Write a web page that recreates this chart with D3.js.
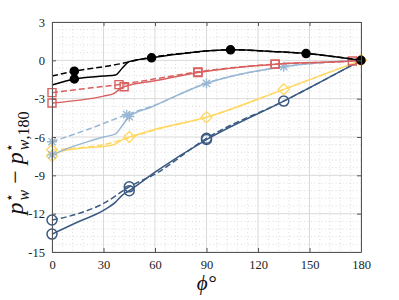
<!DOCTYPE html>
<html>
<head>
<meta charset="utf-8">
<script src="https://cdn.jsdelivr.net/npm/d3@7"></script>
<style>
  body { margin: 0; background: #fff; overflow: hidden; }
  svg { display: block; }
  svg text { font-family: "Liberation Serif", "DejaVu Serif", serif; }
</style>
</head>
<body>
<div id="chart"></div>
<script>
const width = 399, height = 300;
const margin = {top: 22, right: 38, bottom: 48, left: 52};
const innerWidth = width - margin.left - margin.right;
const innerHeight = height - margin.top - margin.bottom;

// values (phi in degrees, p*_w - p*_w,180)
const blackSolidPhi = [0, 13, 30, 37, 41, 45, 58, 80, 104, 130, 148, 165, 180];
const blackSolidVal = [-1.93, -1.46, -1.23, -1.15, -0.6, -0.1, 0.2, 0.6, 0.82, 0.68, 0.53, 0.28, 0];
const blackDashPhi = [0, 13, 36, 58, 80, 104, 130, 148, 165, 180];
const blackDashVal = [-1.23, -0.85, -0.37, 0.24, 0.6, 0.82, 0.68, 0.53, 0.28, 0];
const blackSolidMk = [13, 58, 104, 148, 180];
const blackDashMk = [13];

const redSolidPhi = [0, 30, 36, 40, 42, 60, 85, 130, 175, 180];
const redSolidVal = [-3.34, -2.8, -2.6, -2.2, -2.07, -1.6, -0.95, -0.3, -0.05, 0];
const redDashPhi = [0, 20, 39, 60, 85, 130, 175, 180];
const redDashVal = [-2.53, -2.2, -1.9, -1.45, -0.9, -0.3, -0.05, 0];
const redSolidMk = [0, 42, 85, 130, 175];
const redDashMk = [0, 39, 85, 130];

const lblueSolidPhi = [0, 10, 20, 30, 37, 41, 45, 58, 90, 135, 180];
const lblueSolidVal = [-7.4, -6.85, -6.4, -6.0, -5.75, -5.1, -4.4, -3.65, -1.8, -0.5, 0];
const lblueDashPhi = [0, 20, 43.5, 58, 90, 135, 180];
const lblueDashVal = [-6.37, -5.45, -4.25, -3.6, -1.8, -0.5, 0];
const lblueSolidMk = [0, 45, 90, 135];
const lblueDashMk = [0, 43.5];

const yellowSolidPhi = [0, 6, 15, 30, 37, 41, 45, 60, 90, 135, 180];
const yellowSolidVal = [-7.5, -7.1, -6.9, -6.75, -6.55, -6.2, -6.0, -5.4, -4.45, -2.27, 0];
const yellowDashPhi = [0, 15, 30, 45, 60, 90, 135, 180];
const yellowDashVal = [-7.0, -6.85, -6.6, -6.05, -5.45, -4.45, -2.27, 0];
const yellowSolidMk = [0, 45, 90, 135, 180];
const yellowDashMk = [0];

const dblueSolidPhi = [0, 15, 30, 37, 41, 45, 60, 90, 135, 180];
const dblueSolidVal = [-13.6, -12.65, -11.75, -11.1, -10.55, -10.2, -8.75, -6.2, -3.19, 0];
const dblueDashPhi = [0, 10, 30, 45, 60, 90, 135, 180];
const dblueDashVal = [-12.5, -12.2, -11.2, -9.9, -8.9, -6.1, -3.19, 0];
const dblueSolidMk = [0, 45, 90, 135];
const dblueDashMk = [0, 45, 90];

const xTicks = [0, 30, 60, 90, 120, 150, 180];
const yTicks = [-15, -12, -9, -6, -3, 0, 3];

const series = [
  {id: "dblue", color: "#3b5a82", marker: "circle", solid: [dblueSolidPhi, dblueSolidVal, dblueSolidMk], dash: [dblueDashPhi, dblueDashVal, dblueDashMk]},
  {id: "yellow", color: "#ffd966", marker: "diamond", solid: [yellowSolidPhi, yellowSolidVal, yellowSolidMk], dash: [yellowDashPhi, yellowDashVal, yellowDashMk]},
  {id: "lblue", color: "#9ab8d3", marker: "star", solid: [lblueSolidPhi, lblueSolidVal, lblueSolidMk], dash: [lblueDashPhi, lblueDashVal, lblueDashMk]},
  {id: "red", color: "#d9605f", marker: "square", solid: [redSolidPhi, redSolidVal, redSolidMk], dash: [redDashPhi, redDashVal, redDashMk]},
  {id: "black", color: "#000000", marker: "dot", solid: [blackSolidPhi, blackSolidVal, blackSolidMk], dash: [blackDashPhi, blackDashVal, blackDashMk]}
];

const xScale = d3.scaleLinear().domain([0, 180]).range([0, innerWidth]);
const yScale = d3.scaleLinear().domain([-15, 3]).range([innerHeight, 0]);

const svg = d3.select("#chart")
  .append("svg")
    .attr("width", width)
    .attr("height", height);

const inner = svg.append("g")
  .attr("transform", `translate(${margin.left}, ${margin.top})`);

// minor grid (dotted)
inner.append("g")
  .selectAll("line")
  .data(d3.range(0, 181, 6).filter(d => d % 30 !== 0))
  .join("line")
    .attr("x1", d => xScale(d)).attr("x2", d => xScale(d))
    .attr("y1", 0).attr("y2", innerHeight)
    .attr("stroke", "#d4d4d4").attr("stroke-width", 0.8)
    .attr("stroke-dasharray", "1,2.5");
inner.append("g")
  .selectAll("line")
  .data(d3.range(-15, 3.01, 0.6).filter(d => Math.abs(d / 3 - Math.round(d / 3)) > 0.01))
  .join("line")
    .attr("y1", d => yScale(d)).attr("y2", d => yScale(d))
    .attr("x1", 0).attr("x2", innerWidth)
    .attr("stroke", "#d4d4d4").attr("stroke-width", 0.8)
    .attr("stroke-dasharray", "1,2.5");

// major grid
inner.append("g")
  .selectAll("line")
  .data(xTicks)
  .join("line")
    .attr("x1", d => xScale(d)).attr("x2", d => xScale(d))
    .attr("y1", 0).attr("y2", innerHeight)
    .attr("stroke", "#d9d9d9").attr("stroke-width", 1);
inner.append("g")
  .selectAll("line")
  .data(yTicks)
  .join("line")
    .attr("y1", d => yScale(d)).attr("y2", d => yScale(d))
    .attr("x1", 0).attr("x2", innerWidth)
    .attr("stroke", "#d9d9d9").attr("stroke-width", 1);

const line = d3.line()
  .x(d => xScale(d[0]))
  .y(d => yScale(d[1]))
  .curve(d3.curveMonotoneX);

const markerPath = (type, x, y) => {
  if (type === "square") { const s = 4; return `M${x-s},${y-s}h${2*s}v${2*s}h${-2*s}Z`; }
  if (type === "diamond") { const s = 5.5; return `M${x},${y-s}L${x+s},${y}L${x},${y+s}L${x-s},${y}Z`; }
  if (type === "star") {
    const s = 5, t = 3.6;
    return `M${x-s},${y}L${x+s},${y}M${x},${y-s}L${x},${y+s}M${x-t},${y-t}L${x+t},${y+t}M${x-t},${y+t}L${x+t},${y-t}`;
  }
  return null;
};

series.forEach(serie => {
  const g = inner.append("g").attr("class", `serie-${serie.id}`);
  [["dash", "6,3"], ["solid", null]].forEach(([kind, dash]) => {
    const [phi, val, mk] = serie[kind];
    const pts = phi.map((p, i) => [p, val[i]]);
    g.append("path")
      .attr("d", line(pts))
      .attr("fill", "none")
      .attr("stroke", serie.color)
      .attr("stroke-width", 1.5)
      .attr("stroke-dasharray", dash);

    const mpts = pts.filter(p => mk.includes(p[0]));
    if (serie.marker === "circle" || serie.marker === "dot") {
      g.selectAll(`.mk-${kind}`)
        .data(mpts)
        .join("circle")
          .attr("class", `mk-${kind}`)
          .attr("cx", d => xScale(d[0]))
          .attr("cy", d => yScale(d[1]))
          .attr("r", serie.marker === "dot" ? 4 : 5)
          .attr("fill", serie.marker === "dot" ? serie.color : "none")
          .attr("stroke", serie.color)
          .attr("stroke-width", 1.5);
    } else {
      g.selectAll(`.mk-${kind}`)
        .data(mpts)
        .join("path")
          .attr("class", `mk-${kind}`)
          .attr("d", d => markerPath(serie.marker, xScale(d[0]), yScale(d[1])))
          .attr("fill", "none")
          .attr("stroke", serie.color)
          .attr("stroke-width", 1.4);
    }
  });
});

// axes with inward ticks
const axisColor = "#555";
const styleAxis = g => {
  g.attr("font-family", null);
  g.select(".domain").attr("stroke", axisColor).attr("stroke-width", 1);
  g.selectAll(".tick line").attr("stroke", axisColor);
  g.selectAll(".tick text")
    .attr("fill", "#222")
    .style("font-size", "12.5px")
    .style("font-family", "'Liberation Serif', 'DejaVu Serif', serif");
};
const dropLabels = g => g.selectAll(".tick text").remove();

inner.append("g")
  .attr("transform", `translate(0, ${innerHeight})`)
  .call(d3.axisBottom(xScale).tickValues(xTicks).tickSize(-4).tickSizeOuter(0).tickPadding(8))
  .call(styleAxis);
inner.append("g")
  .call(d3.axisTop(xScale).tickValues(xTicks).tickSize(-4).tickSizeOuter(0))
  .call(styleAxis)
  .call(dropLabels);
inner.append("g")
  .call(d3.axisLeft(yScale).tickValues(yTicks).tickSize(-4).tickSizeOuter(0).tickPadding(7).tickFormat(d => d))
  .call(styleAxis);
inner.append("g")
  .attr("transform", `translate(${innerWidth}, 0)`)
  .call(d3.axisRight(yScale).tickValues(yTicks).tickSize(-4).tickSizeOuter(0))
  .call(styleAxis)
  .call(dropLabels);

// axis labels
svg.append("text")
  .attr("x", margin.left + innerWidth / 2)
  .attr("y", 290)
  .attr("text-anchor", "middle")
  .style("font-size", "21px")
  .style("font-style", "italic")
  .attr("fill", "#111")
  .text("ϕ°");

const yLabel = svg.append("text")
  .attr("transform", "translate(23, 163) rotate(-90)")
  .attr("text-anchor", "middle")
  .style("font-size", "24px")
  .attr("fill", "#111");
yLabel.append("tspan").style("font-style", "italic").text("p");
yLabel.append("tspan").attr("dy", -9).style("font-size", "14px").text("⋆");
yLabel.append("tspan").attr("dx", -7).attr("dy", 15).style("font-size", "16px").style("font-style", "italic").text("w");
yLabel.append("tspan").attr("dy", -6).text(" − ");
yLabel.append("tspan").style("font-style", "italic").text("p");
yLabel.append("tspan").attr("dy", -9).style("font-size", "14px").text("⋆");
yLabel.append("tspan").attr("dx", -7).attr("dy", 15).style("font-size", "16px").style("font-style", "italic").text("w");
yLabel.append("tspan").style("font-size", "16px").text(",180");
</script>
</body>
</html>
